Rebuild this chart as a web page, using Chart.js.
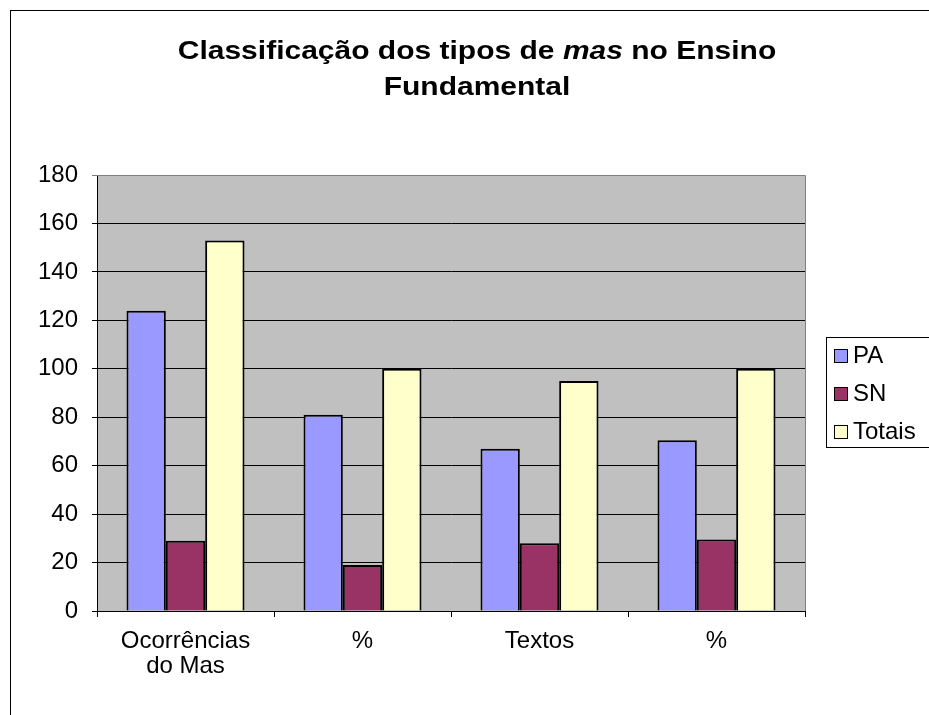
<!DOCTYPE html>
<html>
<head>
<meta charset="utf-8">
<script src="https://cdn.jsdelivr.net/npm/chart.js@4/dist/chart.umd.min.js"></script>
<style>
  html, body { margin: 0; padding: 0; background: #fff; }
  canvas { display: block; }
</style>
</head>
<body>
<canvas id="chart" width="929" height="715"></canvas>
<script>
const categories = [['Ocorrências', 'do Mas'], '%', 'Textos', '%'];
const seriesNames = ['PA', 'SN', 'Totais'];
const paValues = [124, 81, 67, 70.5];
const snValues = [29, 19, 28, 29.5];
const totalValues = [153, 100, 95, 100];
const seriesColors = ['#9999FF', '#993366', '#FFFFCC'];

const FONT = 'Arial, "Liberation Sans", sans-serif';

// plot background, outer frame, title and legend drawn by hand (Excel look)
const excelLook = {
	id: 'excelLook',
	beforeDraw(chart) {
		const { ctx, chartArea: a } = chart;
		ctx.save();
		ctx.fillStyle = '#C0C0C0';
		ctx.fillRect(a.left, a.top, a.right - a.left, a.bottom - a.top);
		ctx.restore();
	},
	afterDraw(chart) {
		const { ctx, chartArea: a } = chart;
		ctx.save();

		// plot border (top + right in gray)
		ctx.strokeStyle = '#808080';
		ctx.lineWidth = 1;
		ctx.beginPath();
		ctx.moveTo(a.left, a.top + 0.5);
		ctx.lineTo(a.right + 0.5, a.top + 0.5);
		ctx.lineTo(a.right + 0.5, a.bottom);
		ctx.stroke();

		// outer frame
		ctx.strokeStyle = '#000';
		ctx.strokeRect(10.5, 10.5, 1000, 1000);

		// title with italic "mas", stretched a bit like the Excel rendering
		const cx = 477;
		const sx = 1.2;
		const parts = [
			['Classificação dos tipos de ', 'bold 25px ' + FONT],
			['mas', 'italic bold 25px ' + FONT],
			[' no Ensino', 'bold 25px ' + FONT],
		];
		let total = 0;
		parts.forEach((p) => {
			ctx.font = p[1];
			total += ctx.measureText(p[0]).width;
		});
		ctx.save();
		ctx.translate(cx, 0);
		ctx.scale(sx, 1);
		let x = -total / 2;
		ctx.fillStyle = '#000';
		ctx.textBaseline = 'alphabetic';
		ctx.textAlign = 'left';
		parts.forEach((p) => {
			ctx.font = p[1];
			ctx.fillText(p[0], x, 59);
			x += ctx.measureText(p[0]).width;
		});
		ctx.font = 'bold 25px ' + FONT;
		ctx.textAlign = 'center';
		ctx.fillText('Fundamental', 0, 95);
		ctx.restore();

		// legend
		ctx.strokeStyle = '#000';
		ctx.strokeRect(826.5, 337.5, 200, 110);
		ctx.font = '24px ' + FONT;
		ctx.textAlign = 'left';
		ctx.textBaseline = 'middle';
		chart.data.datasets.forEach((ds, i) => {
			const y = 356 + i * 38;
			ctx.fillStyle = ds.backgroundColor;
			ctx.fillRect(834, y - 7, 14, 14);
			ctx.strokeStyle = '#000';
			ctx.strokeRect(834.5, y - 6.5, 13, 13);
			ctx.fillStyle = '#000';
			ctx.fillText(ds.label, 853, y);
		});
		ctx.restore();
	},
};

const datasets = [paValues, snValues, totalValues].map((vals, i) => ({
	label: seriesNames[i],
	data: vals,
	backgroundColor: seriesColors[i],
	borderColor: '#000',
	borderWidth: 2,
	categoryPercentage: 3 / 4.5,
	barPercentage: 1,
}));

new Chart(document.getElementById('chart'), {
	type: 'bar',
	data: { labels: categories, datasets: datasets },
	plugins: [excelLook],
	options: {
		responsive: false,
		animation: false,
		devicePixelRatio: 1,
		layout: { padding: { top: 175, right: 124, left: 0, bottom: 0 } },
		plugins: {
			legend: { display: false },
			title: { display: false },
			tooltip: { enabled: false },
		},
		scales: {
			x: {
				afterFit: (s) => { s.height = 104; },
				grid: {
					offset: true,
					drawOnChartArea: false,
					drawTicks: true,
					tickLength: 6,
					color: '#000',
				},
				border: { display: true, color: '#000', width: 1 },
				ticks: {
					color: '#000',
					padding: 12,
					maxRotation: 0,
					autoSkip: false,
					font: { family: FONT, size: 24, lineHeight: 1.05 },
				},
			},
			y: {
				min: 0,
				max: 180,
				afterFit: (s) => { s.width = 97; },
				grid: {
					color: (c) => (c.tick && c.tick.value === 180 ? '#808080' : '#000'),
					tickLength: 5,
				},
				border: { display: true, color: '#000', width: 1 },
				ticks: {
					stepSize: 20,
					color: '#000',
					padding: 14,
					font: { family: FONT, size: 24 },
				},
			},
		},
	},
});
</script>
</body>
</html>
